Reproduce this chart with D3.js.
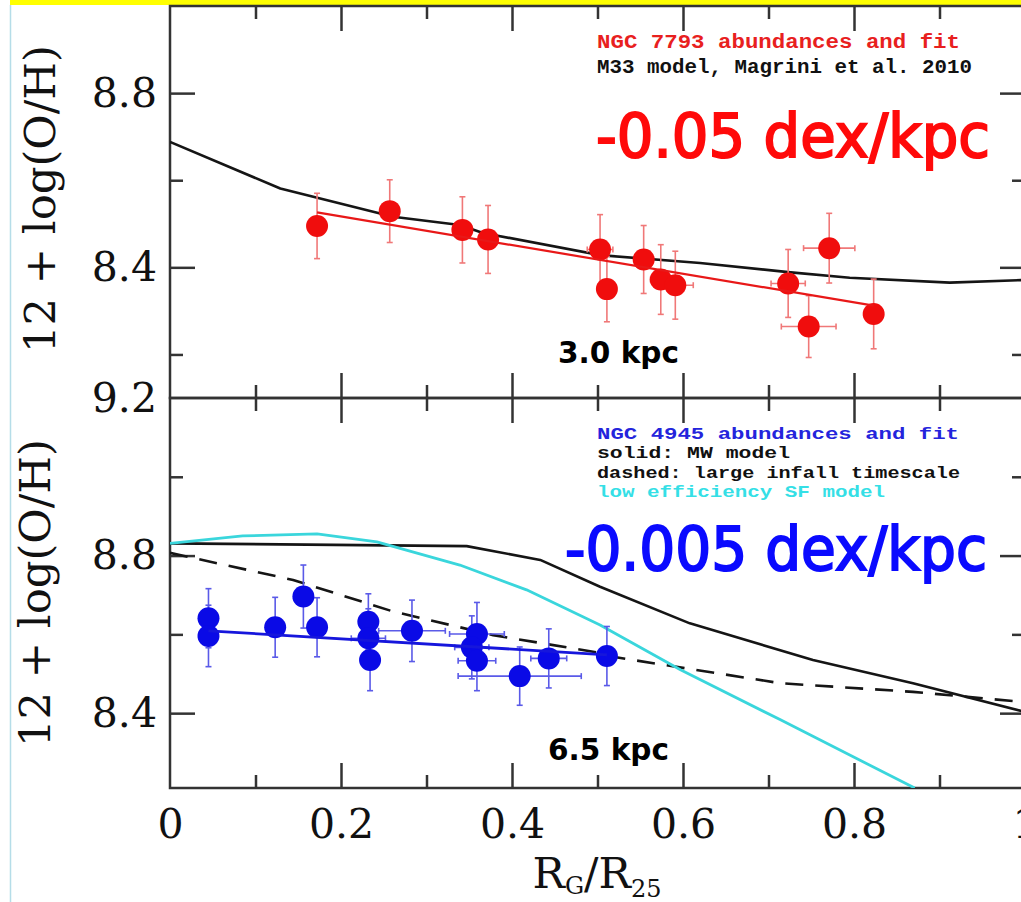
<!DOCTYPE html>
<html>
<head>
<meta charset="utf-8">
<script src="https://cdn.jsdelivr.net/npm/d3@7"></script>
<style>
  html, body { margin: 0; padding: 0; background: #fff; }
  svg { display: block; }
</style>
</head>
<body>
<svg id="chart" width="1021" height="902"></svg>
<script>
// ---- NGC 7793 (top panel) ----
const redR     = [0.172, 0.257, 0.342, 0.372, 0.503, 0.511, 0.554, 0.574, 0.591, 0.723, 0.771, 0.747, 0.823];
const redOH    = [8.495, 8.529, 8.486, 8.464, 8.441, 8.350, 8.418, 8.372, 8.359, 8.363, 8.444, 8.264, 8.293];
const redErr   = [0.075, 0.072, 0.076, 0.078, 0.080, 0.075, 0.078, 0.080, 0.078, 0.078, 0.080, 0.071, 0.080];
const redRErr  = [0, 0, 0, 0, 0.015, 0, 0.010, 0.012, 0.021, 0.020, 0.030, 0.032, 0];
const redFitR  = [0.172, 0.823];
const redFitOH = [8.526, 8.312];
// M33 chemical evolution model (Magrini et al. 2010)
const m33R  = [0, 0.129, 0.261, 0.339, 0.366, 0.503, 0.620, 0.723, 0.795, 0.912, 1.0];
const m33OH = [8.688, 8.581, 8.516, 8.497, 8.479, 8.428, 8.410, 8.389, 8.376, 8.365, 8.371];

// ---- NGC 4945 (bottom panel) ----
const blueR     = [0.045, 0.045, 0.123, 0.156, 0.172, 0.232, 0.232, 0.234, 0.283, 0.359, 0.353, 0.359, 0.409, 0.443, 0.511];
const blueOH    = [8.641, 8.596, 8.618, 8.696, 8.618, 8.632, 8.590, 8.535, 8.609, 8.601, 8.567, 8.533, 8.494, 8.539, 8.545];
const blueErr   = [0.075, 0.078, 0.076, 0.080, 0.075, 0.071, 0.075, 0.078, 0.078, 0.080, 0.080, 0.076, 0.074, 0.075, 0.075];
const blueRErr  = [0, 0, 0, 0, 0, 0, 0.020, 0, 0.039, 0.032, 0.020, 0.022, 0.072, 0.021, 0];
const blueFitR  = [0.045, 0.511];
const blueFitOH = [8.609, 8.548];
// Milky Way model (solid)
const mwR  = [0, 0.347, 0.433, 0.503, 0.608, 0.752, 0.869, 1.0];
const mwOH = [8.831, 8.824, 8.789, 8.721, 8.628, 8.535, 8.476, 8.403];
// large infall timescale (dashed)
const infallR  = [0, 0.144, 0.261, 0.378, 0.503, 0.518, 0.714, 0.869, 1.0];
const infallOH = [8.807, 8.738, 8.658, 8.598, 8.553, 8.543, 8.476, 8.454, 8.428];
// low efficiency star formation model
const lowSFR  = [0, 0.085, 0.172, 0.242, 0.339, 0.417, 0.503, 0.597, 0.714, 0.871];
const lowSFOH = [8.831, 8.850, 8.855, 8.835, 8.776, 8.713, 8.624, 8.510, 8.383, 8.210];

// ---- axes ----
const xTicks      = [0, 0.2, 0.4, 0.6, 0.8, 1];
const xMinorTicks = [0.1, 0.3, 0.5, 0.7, 0.9];
const topYLabels  = [8.4, 8.8];
const topYMajor   = [8.4, 8.8];
const topYMinor   = [8.2, 8.6];
const botYLabels  = [8.4, 8.8, 9.2];
const botYMajor   = [8.4, 8.8];
const botYMinor   = [8.6, 9.0];
const yTitle = "12 + log(O/H)";

const topLegend = [
  {text: "NGC 7793 abundances and fit", color: "#e8201e"},
  {text: "M33 model, Magrini et al. 2010", color: "#111"}
];
const botLegend = [
  {text: "NGC 4945 abundances and fit", color: "#2424dc"},
  {text: "solid: MW model", color: "#111"},
  {text: "dashed: large infall timescale", color: "#111"},
  {text: "low efficiency SF model", color: "#35dfe6"}
];

const svg = d3.select("#chart");
const W = 1021, H = 902;

// page decoration: yellow strip and thin left border
svg.append("rect").attr("x", 10).attr("y", 0).attr("width", W - 10).attr("height", 5).attr("fill", "#ffff00");
svg.append("line").attr("x1", 10.5).attr("x2", 10.5).attr("y1", 5).attr("y2", H)
  .attr("stroke", "#b5dde8").attr("stroke-width", 1.5);

const x = d3.scaleLinear().domain([0, 1]).range([170, 1025]);
const yTop = d3.scaleLinear().domain([8.1, 9.0]).range([398, 6]);
const yBot = d3.scaleLinear().domain([8.21, 9.2]).range([788, 398]);

const axisColor = "#333";
const serif = "'DejaVu Serif', serif";

function clip(id, y0, y1) {
  svg.append("clipPath").attr("id", id).append("rect")
    .attr("x", 170).attr("y", y0).attr("width", 855).attr("height", y1 - y0);
}
clip("clipTop", 6, 398);
clip("clipBot", 398, 788);

function styleAxis(g) {
  g.select(".domain").remove();
  g.selectAll(".tick line").attr("stroke", axisColor).attr("stroke-width", 2.5);
}

function panelTicks(y, yMajor, yMinor, y0, y1) {
  const defs = [
    [d3.axisTop, y0, xTicks.slice(1, -1), 25],
    [d3.axisTop, y0, xMinorTicks, 13],
    [d3.axisBottom, y1, xTicks.slice(1, -1), 25],
    [d3.axisBottom, y1, xMinorTicks, 13]
  ];
  defs.forEach(([fn, ty, vals, len]) => {
    svg.append("g").attr("transform", `translate(0,${ty})`)
      .call(fn(x).tickValues(vals).tickSize(-len).tickFormat(""))
      .call(styleAxis);
  });
  [[d3.axisLeft, 170], [d3.axisRight, 1025]].forEach(([fn, tx]) => {
    svg.append("g").attr("transform", `translate(${tx},0)`)
      .call(fn(y).tickValues(yMajor).tickSize(-25).tickFormat("")).call(styleAxis);
    svg.append("g").attr("transform", `translate(${tx},0)`)
      .call(fn(y).tickValues(yMinor).tickSize(-13).tickFormat("")).call(styleAxis);
  });
  svg.append("rect").attr("x", 170).attr("y", y0).attr("width", 855).attr("height", y1 - y0)
    .attr("fill", "none").attr("stroke", axisColor).attr("stroke-width", 2.5);
}

function yLabels(y, vals) {
  svg.append("g").attr("transform", "translate(170,0)")
    .call(d3.axisLeft(y).tickValues(vals).tickSize(0).tickPadding(13).tickFormat(d3.format(".1f")))
    .call(g => g.select(".domain").remove())
    .call(g => g.selectAll("text").attr("font-family", serif).attr("font-size", 41).attr("fill", "#111"));
}

function yAxisTitle(cx, cy) {
  svg.append("text")
    .attr("transform", `translate(${cx},${cy}) rotate(-90)`)
    .attr("text-anchor", "middle")
    .attr("font-family", serif).attr("font-size", 43).attr("fill", "#111")
    .attr("textLength", 308).attr("lengthAdjust", "spacingAndGlyphs")
    .text(yTitle);
}

function drawLine(xs, ys, y, color, width, dash, clipId) {
  const pts = xs.map((v, i) => [v, ys[i]]);
  const line = d3.line().x(d => x(d[0])).y(d => y(d[1]));
  svg.append("path").datum(pts).attr("d", line)
    .attr("fill", "none").attr("stroke", color).attr("stroke-width", width)
    .attr("stroke-linejoin", "round")
    .attr("stroke-dasharray", dash || null)
    .attr("clip-path", `url(#${clipId})`);
}

function drawPoints(xs, ys, es, xes, y, color, barColor) {
  const g = svg.append("g");
  xs.forEach((xv, i) => {
    const cx = x(xv), cy = y(ys[i]);
    const yt = y(ys[i] + es[i]), yb = y(ys[i] - es[i]);
    g.append("line").attr("x1", cx).attr("x2", cx).attr("y1", yt).attr("y2", yb)
      .attr("stroke", barColor).attr("stroke-width", 1.6);
    [yt, yb].forEach(yy => g.append("line").attr("x1", cx - 3).attr("x2", cx + 3)
      .attr("y1", yy).attr("y2", yy).attr("stroke", barColor).attr("stroke-width", 1.6));
    if (xes[i] > 0) {
      const xl = x(xv - xes[i]), xr = x(xv + xes[i]);
      g.append("line").attr("x1", xl).attr("x2", xr).attr("y1", cy).attr("y2", cy)
        .attr("stroke", barColor).attr("stroke-width", 1.6);
      [xl, xr].forEach(xx => g.append("line").attr("x1", xx).attr("x2", xx)
        .attr("y1", cy - 3).attr("y2", cy + 3).attr("stroke", barColor).attr("stroke-width", 1.6));
    }
  });
  xs.forEach((xv, i) => {
    g.append("circle").attr("cx", x(xv)).attr("cy", y(ys[i])).attr("r", 11).attr("fill", color);
  });
}

function legend(items, x0, baselines, lengths, size) {
  items.forEach((it, i) => {
    svg.append("text").attr("x", x0).attr("y", baselines[i])
      .attr("font-family", "'Liberation Mono', monospace").attr("font-weight", "bold")
      .attr("font-size", size).attr("fill", it.color)
      .attr("textLength", lengths[i]).attr("lengthAdjust", "spacingAndGlyphs")
      .text(it.text);
  });
}

function bigText(str, x0, yb, len, color) {
  svg.append("text").attr("x", x0).attr("y", yb)
    .attr("font-family", "'DejaVu Sans', sans-serif").attr("font-size", 60)
    .attr("fill", color).attr("stroke", color).attr("stroke-width", 2)
    .attr("textLength", len).attr("lengthAdjust", "spacingAndGlyphs")
    .text(str);
}

function kpcText(str, x0, yb) {
  svg.append("text").attr("x", x0).attr("y", yb)
    .attr("font-family", "'DejaVu Sans', sans-serif").attr("font-weight", "bold")
    .attr("font-size", 30).attr("fill", "#000")
    .attr("textLength", 121).attr("lengthAdjust", "spacingAndGlyphs")
    .text(str);
}

// ---------- top panel ----------
panelTicks(yTop, topYMajor, topYMinor, 6, 398);
yLabels(yTop, topYLabels);
yAxisTitle(55, 199);
drawLine(m33R, m33OH, yTop, "#151515", 2.6, null, "clipTop");
drawPoints(redR, redOH, redErr, redRErr, yTop, "#f00d0d", "#f07878");
drawLine(redFitR, redFitOH, yTop, "#e81818", 2.2, null, "clipTop");
legend(topLegend, 597, [48, 73], [363, 375], 20);
bigText("-0.05 dex/kpc", 596, 157, 394, "#ff0a0a");
kpcText("3.0 kpc", 558, 363);

// ---------- bottom panel ----------
panelTicks(yBot, botYMajor, botYMinor, 398, 788);
yLabels(yBot, botYLabels);
yAxisTitle(50, 593);
drawLine(mwR, mwOH, yBot, "#151515", 2.6, null, "clipBot");
drawLine(infallR, infallOH, yBot, "#151515", 2.6, "18,12", "clipBot");
drawLine(lowSFR, lowSFOH, yBot, "#3ad6dc", 2.8, null, "clipBot");
drawPoints(blueR, blueOH, blueErr, blueRErr, yBot, "#0a0ae6", "#5a5ae8");
drawLine(blueFitR, blueFitOH, yBot, "#1616dc", 2.8, null, "clipBot");
legend(botLegend, 597, [439, 458, 478, 497], [362, 193, 363, 288], 17);
bigText("-0.005 dex/kpc", 565, 570, 422, "#0a0aff");
kpcText("6.5 kpc", 548, 760);

// x tick labels and title
svg.append("g").attr("transform", "translate(0,788)")
  .call(d3.axisBottom(x).tickValues(xTicks).tickSize(0).tickPadding(21).tickFormat(d => String(d)))
  .call(g => g.select(".domain").remove())
  .call(g => g.selectAll("text").attr("font-family", serif).attr("font-size", 41).attr("fill", "#111"));

const xt = svg.append("text").attr("x", 597).attr("y", 888).attr("text-anchor", "middle")
  .attr("font-family", serif).attr("font-size", 43).attr("fill", "#111");
xt.append("tspan").text("R");
xt.append("tspan").attr("font-size", 24).attr("dy", 6).text("G");
xt.append("tspan").attr("dy", -6).text("/R");
xt.append("tspan").attr("font-size", 24).attr("dy", 9).text("25");
</script>
</body>
</html>
